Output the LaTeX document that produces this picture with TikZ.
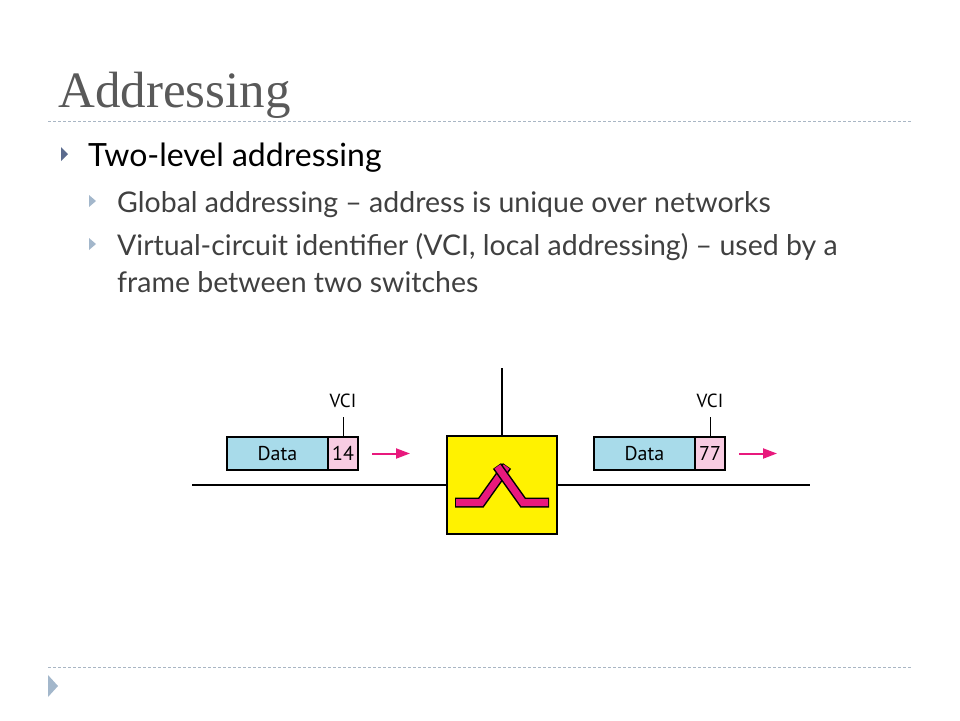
\documentclass[tikz,border=0pt]{standalone}
\usepackage{fontspec}
\setmainfont{Lato}
\newfontfamily\titlefont{Liberation Serif}
\newfontfamily\figfont{PT Sans}
\usetikzlibrary{positioning, arrows.meta}

\definecolor{titlegray}{HTML}{595959}
\definecolor{bodygray}{HTML}{404040}
\definecolor{rulegray}{HTML}{A9B6C4}
\definecolor{bulletdark}{HTML}{5B6B8E}
\definecolor{bulletlight}{HTML}{A3B7CB}
\definecolor{datablue}{HTML}{A8DBEA}
\definecolor{vcipink}{HTML}{F8CCE2}
\definecolor{flowmagenta}{HTML}{E8197D}

\tikzset{
  rule/.style={rulegray, line width=1pt, dash pattern=on 3pt off 2pt},
  databox/.style={draw, line width=1.3pt, fill=datablue, outer sep=0pt, inner sep=0pt,
    minimum width=101pt, minimum height=33pt, font=\figfont\fontsize{20}{22}\selectfont},
  vcibox/.style={databox, fill=vcipink, minimum width=30pt},
  vcilabel/.style={inner xsep=1pt, inner ysep=9pt, font=\figfont\fontsize{19}{21}\selectfont},
  wire/.style={line width=2.4pt},
  flow/.style={flowmagenta, line width=2pt, -{Triangle[length=14pt,width=10pt]}},
  switchbox/.style={draw, line width=1.5pt, fill=yellow, minimum width=110pt, minimum height=98pt},
  glyphedge/.style={line width=10pt, line cap=butt, line join=miter},
  glyphcore/.style={flowmagenta, line width=7pt, line cap=butt, line join=miter}
}

\begin{document}
\begin{tikzpicture}[x=1pt, y=-1pt]
  \useasboundingbox (0,0) rectangle (960,720);

  % slide text
  \node (title) [anchor=base west, inner sep=0pt, titlegray, font=\titlefont\fontsize{51}{56}\selectfont]
    at (58,107) {Addressing};
  \draw[rule] (48,121) -- (912,121);
  \fill[bulletdark] (61,147) -- (68,154) -- (61,161) -- cycle;
  \node (lvl) [anchor=base west, inner sep=0pt, font=\fontsize{32}{38}\selectfont]
    at (88,166) {Two-level addressing};
  \foreach \y in {201,244}
    \fill[bulletlight] (89,{\y-6}) -- (96,\y) -- (89,{\y+6}) -- cycle;
  \node (glob) [anchor=base west, inner sep=0pt, bodygray, font=\fontsize{28.5}{36}\selectfont]
    at (117,212) {Global addressing -- address is unique over networks};
  \node (vcitxt) [anchor=base west, inner sep=0pt, bodygray, align=left, font=\fontsize{28.5}{37}\selectfont]
    at (117,292) {Virtual-circuit identifier (VCI, local addressing) -- used by a\\frame between two switches};

  % the switch and its links
  \node (switch) [switchbox] at (502,485) {};
  \coordinate (west) at (192,485);
  \coordinate (east) at (810,485);
  \coordinate (up) at (502,368);
  \draw[wire] (west) -- (switch);
  \draw[wire] (switch) -- (east);
  \draw[line width=2pt] (up) -- (switch);
  \begin{scope}[shift={(switch.center)}]
    \foreach \s in {-1,1}{
      \draw[glyphedge] ({\s*47},17.5) -- ({\s*21},17.5) -- ({\s*-5},-19);
      \draw[glyphcore] ({\s*46},17.5) -- ({\s*21},17.5) -- ({\s*-4.6},-18.5);}
  \end{scope}

  % frames
  \foreach \n/\x/\v in {a/227/14, b/594/77}{
    \node (data\n) [databox, anchor=west] at (\x,453.5) {Data};
    \node (vci\n) [vcibox, right=0pt of data\n] {\v};
    \node (lbl\n) [vcilabel, above=20pt of vci\n] {VCI};
    \draw[line width=0.8pt] (vci\n.north) -- (lbl\n.south);
    \draw[flow] ([xshift=14pt]vci\n.east) -- ++(38,0);
  }

  \draw[rule] (48,667) -- (912,667);
  \fill[bulletlight] (48,675) -- (58,686) -- (48,697) -- cycle;
\end{tikzpicture}
\end{document}
